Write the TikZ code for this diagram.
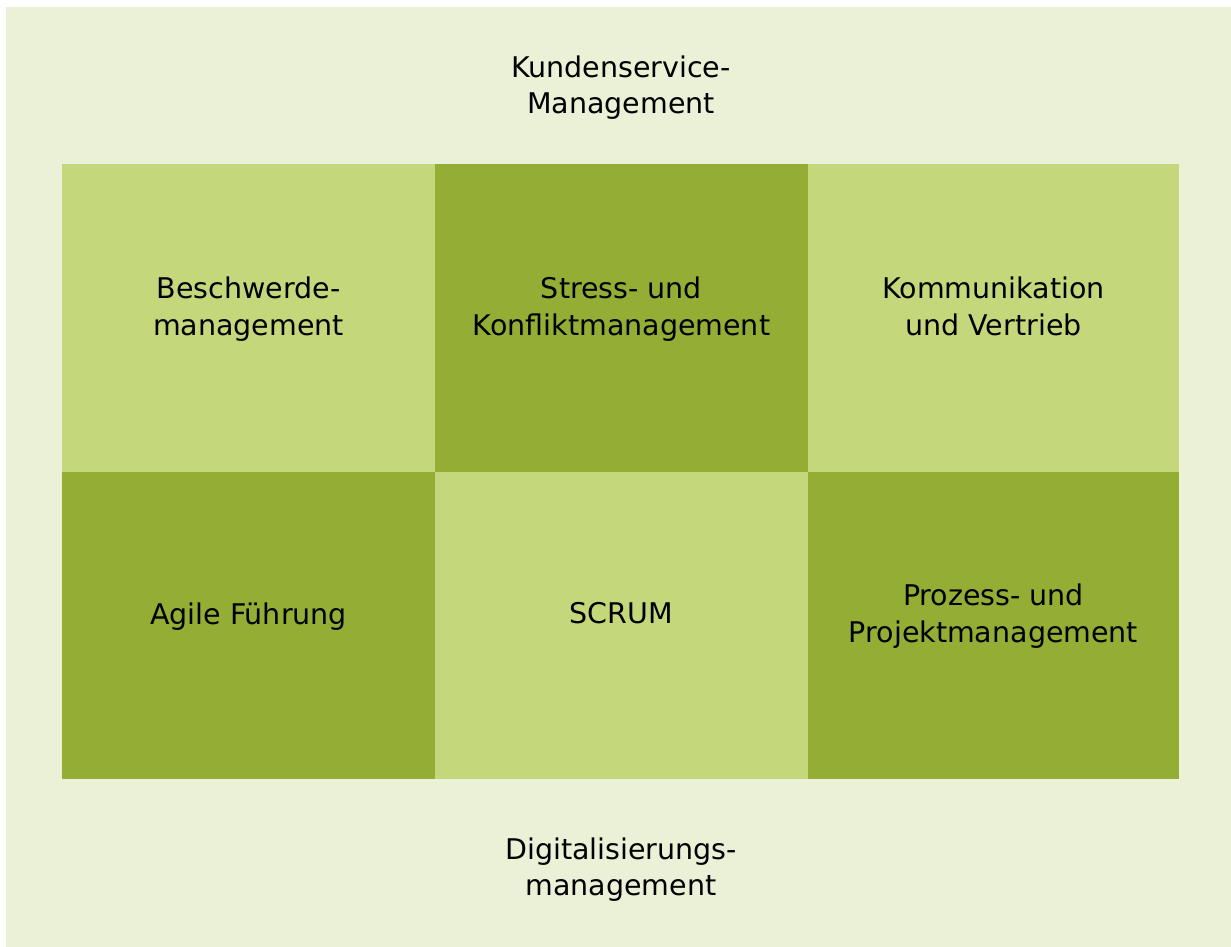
\documentclass[tikz,border=0pt]{standalone}
\usepackage{fontspec}
\setmainfont{DejaVu Sans}
\usetikzlibrary{positioning}

\definecolor{bgGreen}{HTML}{EBF1D7}
\definecolor{lightGreen}{HTML}{C4D87B}
\definecolor{darkGreen}{HTML}{94AD35}

\begin{document}
\begin{tikzpicture}[x=1pt, y=-1pt, node distance=0pt,
    cell/.style={minimum width=373pt, minimum height=307.5pt, inner sep=0pt, outer sep=0pt,
        align=center, text depth=24pt, font=\fontsize{28.5}{37}\selectfont},
    light/.style={cell, fill=lightGreen},
    dark/.style={cell, fill=darkGreen},
    label/.style={align=center, font=\fontsize{28.5}{36}\selectfont}]
    \useasboundingbox (0,0) rectangle (1231,947);
    \fill[bgGreen] (6,7) rectangle (1231,947);

    % top row
    \node[light, anchor=north west] (besch) at (62,164) {Beschwerde-\\management};
    \node[dark, right=of besch] (stress) {Stress- und\\Konfliktmanagement};
    \node[light, right=of stress, minimum width=371pt] (komm) {Kommunikation\\und Vertrieb};

    % bottom row
    \node[dark, below=of besch] (agile) {Agile Führung};
    \node[light, below=of stress] (scrum) {SCRUM};
    \node[dark, below=of komm, minimum width=371pt] (prozess) {Prozess- und\\Projektmanagement};

    \node[label] (kunden) at (621,88) {Kundenservice-\\Management};
    \node[label] (digital) at (621,870) {Digitalisierungs-\\management};
\end{tikzpicture}
\end{document}
